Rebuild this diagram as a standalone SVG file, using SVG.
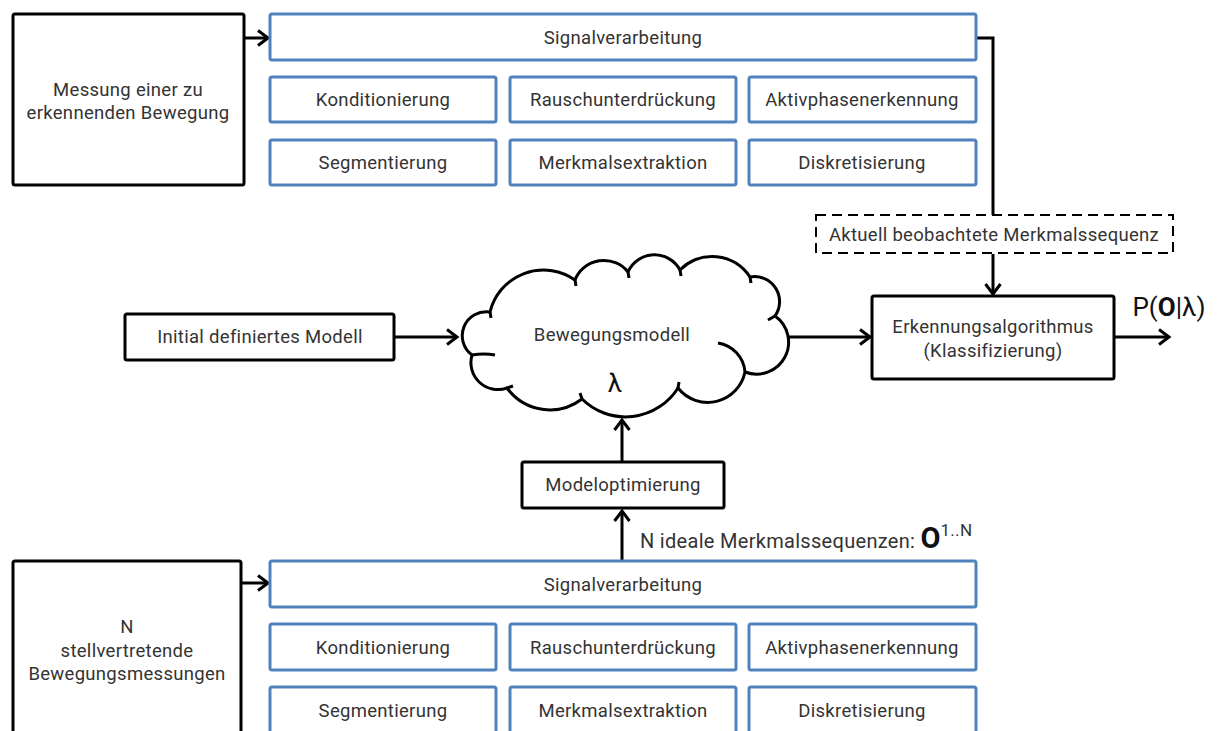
<svg xmlns="http://www.w3.org/2000/svg" width="1217" height="731" viewBox="0 0 1217 731">
  <defs>
    <marker id="arrow" markerUnits="userSpaceOnUse" markerWidth="20" markerHeight="20" viewBox="-12 -10 14 20" refX="0" refY="0" orient="auto">
      <path d="M-10,-7.5 L0,0 L-10,7.5" fill="none" stroke="#000" stroke-width="3" stroke-linejoin="miter"/>
    </marker>
  </defs>
  <style>
    text { font-family: Roboto, "Noto Sans", "Liberation Sans", sans-serif; fill: #333; font-size: 18.5px; letter-spacing: 0.3px; text-anchor: middle; }
    .blk { fill: #fff; stroke: #000; stroke-width: 3; }
    .blue { fill: #fff; stroke: #4f81bd; stroke-width: 3; }
    .dash { fill: #fff; stroke: #000; stroke-width: 2; stroke-dasharray: 10 6; }
    .line { fill: none; stroke: #000; stroke-width: 3; }
    .arr { fill: none; stroke: #000; stroke-width: 3; marker-end: url(#arrow); }
    .cloud { fill: #fff; stroke: #000; stroke-width: 3; stroke-linejoin: round; }
    .stub { fill: none; stroke: #000; stroke-width: 3; stroke-linecap: butt; }
  </style>
  <rect width="1217" height="731" fill="#fff"/>

  <!-- connectors -->
  <g id="connectors">
    <path class="arr" d="M244,38 L268,38"/>
    <path class="line" d="M976,38 L993,38 L993,215"/>
    <path class="arr" d="M993,254 L993,294"/>
    <path class="arr" d="M1114,337 L1169,337"/>
    <path class="arr" d="M394,337 L457,337"/>
    <path class="arr" d="M785,337 L870,337"/>
    <path class="arr" d="M622,462 L622,420"/>
    <path class="arr" d="M622,561 L622,511"/>
    <path class="arr" d="M241,583 L268,583"/>
  </g>

  <!-- upper measurement -->
  <g id="messung">
    <rect class="blk" x="13" y="14" width="231" height="171" rx="2"/>
    <text x="128" y="96">Messung einer zu</text>
    <text x="128" y="119">erkennenden Bewegung</text>
  </g>

  <!-- upper signal processing -->
  <g id="signal-oben">
    <rect class="blue" x="270" y="14" width="706" height="46" rx="2"/>
    <text x="623" y="44">Signalverarbeitung</text>
  </g>
  <g id="kond-oben"><rect class="blue" x="270" y="77" width="226" height="45" rx="2"/><text x="383" y="106">Konditionierung</text></g>
  <g id="rausch-oben"><rect class="blue" x="510" y="77" width="226" height="45" rx="2"/><text x="623" y="106">Rauschunterdrückung</text></g>
  <g id="aktiv-oben"><rect class="blue" x="749" y="77" width="227" height="45" rx="2"/><text x="862" y="106">Aktivphasenerkennung</text></g>
  <g id="segm-oben"><rect class="blue" x="270" y="140" width="226" height="45" rx="2"/><text x="383" y="169">Segmentierung</text></g>
  <g id="merk-oben"><rect class="blue" x="510" y="140" width="226" height="45" rx="2"/><text x="623" y="169">Merkmalsextraktion</text></g>
  <g id="diskr-oben"><rect class="blue" x="749" y="140" width="227" height="45" rx="2"/><text x="862" y="169">Diskretisierung</text></g>

  <!-- observed feature sequence -->
  <g id="beobachtet">
    <rect class="dash" x="816" y="215" width="357" height="38"/>
    <text x="994" y="241">Aktuell beobachtete Merkmalssequenz</text>
  </g>

  <!-- recognition -->
  <g id="erkennung">
    <rect class="blk" x="872" y="296" width="242" height="83" rx="2"/>
    <text x="993" y="333">Erkennungsalgorithmus</text>
    <text x="993" y="357">(Klassifizierung)</text>
  </g>
  <g id="ausgabe">
    <text x="1169" y="316" style="font-size:26px; letter-spacing:0; fill:#111">P(<tspan font-weight="bold">O</tspan>|λ)</text>
  </g>

  <!-- initial model -->
  <g id="initial">
    <rect class="blk" x="125" y="314" width="269" height="46" rx="2"/>
    <text x="260" y="343">Initial definiertes Modell</text>
  </g>

  <!-- motion model cloud -->
  <g id="bewegungsmodell">
    <path class="cloud" d="M490,312 A24,24 0 0,0 472,355 A27,27 0 0,0 507,388 A53,53 0 0,0 582,399 A62,62 0 0,0 678,388 A38,38 0 0,0 745,372 A32,32 0 0,0 775,316 A25,25 0 0,0 750,277 A45,45 0 0,0 680,270 A29,29 0 0,0 628,272 A31,31 0 0,0 575,280 A55,55 0 0,0 490,312 Z"/>
    <path class="stub" d="M490,312 L491,318"/>
    <path class="stub" d="M472,355 Q484,353 495,355"/>
    <path class="stub" d="M507,388 L513,386"/>
    <path class="stub" d="M582,399 L580,393"/>
    <path class="stub" d="M678,388 L679,382"/>
    <path class="stub" d="M718,343 A32,32 0 0,1 745,372"/>
    <path class="stub" d="M775,316 L768,320"/>
    <path class="stub" d="M750,277 L751,283"/>
    <path class="stub" d="M680,270 L681,276"/>
    <path class="stub" d="M628,272 L629,278"/>
    <path class="stub" d="M575,280 L576,286"/>
    <text x="612" y="341">Bewegungsmodell</text>
    <text x="615" y="392" style="font-size:26px; letter-spacing:0; fill:#111">λ</text>
  </g>

  <!-- model optimisation -->
  <g id="optimierung">
    <rect class="blk" x="522" y="462" width="202" height="46" rx="2"/>
    <text x="623" y="491">Modeloptimierung</text>
  </g>
  <g id="ideal-label">
    <text x="640" y="548" style="text-anchor:start; font-size:20px; letter-spacing:0.3px">N ideale Merkmalssequenzen: <tspan font-weight="bold" font-size="29px" fill="#111" letter-spacing="0">O</tspan><tspan font-size="17px" dy="-12">1..N</tspan></text>
  </g>

  <!-- lower measurement -->
  <g id="messungen">
    <rect class="blk" x="13" y="561" width="228" height="190" rx="2"/>
    <text x="127" y="633">N</text>
    <text x="127" y="657">stellvertretende</text>
    <text x="127" y="680">Bewegungsmessungen</text>
  </g>

  <!-- lower signal processing -->
  <g id="signal-unten">
    <rect class="blue" x="270" y="561" width="706" height="46" rx="2"/>
    <text x="623" y="591">Signalverarbeitung</text>
  </g>
  <g id="kond-unten"><rect class="blue" x="270" y="624" width="226" height="46" rx="2"/><text x="383" y="654">Konditionierung</text></g>
  <g id="rausch-unten"><rect class="blue" x="510" y="624" width="226" height="46" rx="2"/><text x="623" y="654">Rauschunterdrückung</text></g>
  <g id="aktiv-unten"><rect class="blue" x="749" y="624" width="227" height="46" rx="2"/><text x="862" y="654">Aktivphasenerkennung</text></g>
  <g id="segm-unten"><rect class="blue" x="270" y="687" width="226" height="60" rx="2"/><text x="383" y="717">Segmentierung</text></g>
  <g id="merk-unten"><rect class="blue" x="510" y="687" width="226" height="60" rx="2"/><text x="623" y="717">Merkmalsextraktion</text></g>
  <g id="diskr-unten"><rect class="blue" x="749" y="687" width="227" height="60" rx="2"/><text x="862" y="717">Diskretisierung</text></g>
</svg>
